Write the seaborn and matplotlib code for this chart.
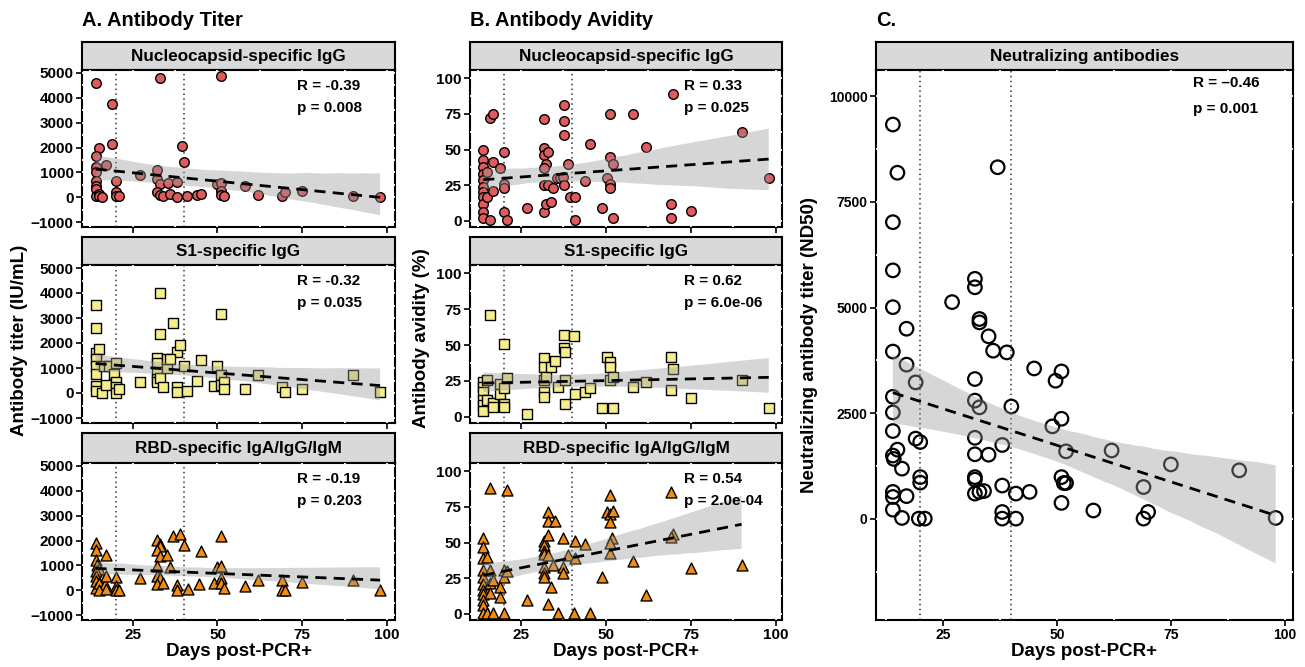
import numpy as np
import pandas as pd
import matplotlib
matplotlib.use("Agg")
import matplotlib.pyplot as plt
import seaborn as sns
from matplotlib.collections import PathCollection
from matplotlib.ticker import MultipleLocator

sns.set_theme(style="white")
plt.rcParams['font.family'] = ['Liberation Sans', 'DejaVu Sans']
plt.rcParams['font.weight'] = 'bold'
plt.rcParams['axes.labelweight'] = 'bold'
plt.rcParams['text.color'] = 'black'
plt.rcParams['axes.labelcolor'] = 'black'

# (days post-PCR+, value)
titer_n = [(14, 4600), (33, 4800), (51, 4870), (19, 3750), (19, 2130), (15, 2000), (39.5, 2050),
           (40, 1400), (14, 1650), (17, 1300), (14, 1200), (14, 1000), (32, 1100), (27, 900),
           (20, 650), (32, 740), (33, 540), (35.5, 580), (38, 600), (14, 670), (14, 470),
           (14, 340), (14, 30), (15, 130), (15, 60), (16, 0), (20, 200), (20, 40), (21, 40),
           (32, 200), (33, 70), (34, 40), (36, 130), (38, 0), (41, 40), (44, 70), (45, 130),
           (50, 540), (51, 580), (51, 240), (51, 70), (52, 40), (58, 470), (62, 70), (69, 40),
           (70, 200), (75, 240), (90, 30), (98, 0)]
titer_s1 = [(14, 3520), (14, 2610), (33, 3990), (33, 2380), (37, 2820), (38, 1640), (39, 1935),
            (40, 1100), (51, 3160), (14, 1610), (15, 1750), (14, 1370), (14, 1100), (14, 770),
            (16.5, 1100), (18, 1100), (19.3, 770), (20, 1210), (14, 300), (14, 70), (16, 0),
            (17, 320), (20, 430), (20, 230), (20, 0), (21, 160), (27, 430), (32, 1400),
            (32, 1210), (32, 830), (32, 560), (32, 430), (33, 600), (34, 230), (35, 1000),
            (35, 1370), (36, 1370), (38, 230), (38, 30), (41, 70), (44, 500), (45, 1340),
            (49, 300), (50, 1075), (51, 730), (51, 320), (52, 430), (52, 160), (58, 160),
            (62, 730), (69, 230), (70, 27), (75, 160), (90, 730), (98, 27)]
titer_rbd = [(14, 1900), (14, 1635), (17, 1435), (14, 1230), (14.5, 1030), (15, 860), (14, 760),
             (14, 560), (14, 360), (14, 95), (15, 300), (16.8, 230), (15, 27), (17, 560),
             (17, 54), (20, 535), (20, 160), (20, 0), (21, 0), (27, 500), (32, 2040), (33, 1840),
             (33, 1770), (32, 1635), (33, 1395), (35, 1435), (32, 990), (32, 560), (33, 500),
             (32, 230), (34, 300), (36, 940), (37, 2200), (39, 2280), (40, 1800), (38, 190),
             (38, 0), (41.4, 54), (44.4, 230), (45, 1570), (49, 300), (50, 940), (51, 990),
             (51, 2200), (51, 500), (51, 270), (52, 95), (58, 160), (62, 430), (69, 430),
             (69, 27), (70, 27), (75, 320), (90, 430), (98, 27)]

avid_n = [(16, 72), (17, 75), (14, 50), (14, 43), (14, 38), (14, 33), (14, 29), (14, 24), (14, 20),
          (14, 17), (14, 12), (14, 6), (14, 2), (15, 34), (15, 17), (16, 0.5), (17, 41), (17, 21),
          (19, 37), (20, 48), (20, 26), (20, 23), (20, 6), (21, 1), (27, 9), (32, 71), (32, 51),
          (32, 46), (32.6, 40), (32, 37), (32, 25), (32, 6), (33, 48), (33, 25), (32.6, 12),
          (34, 13), (34.6, 23), (35.6, 30), (36.6, 30), (37.6, 31), (37.8, 81), (37.8, 70),
          (37.8, 60), (37.8, 25), (39, 40), (39.6, 17), (41, 17), (41, 1), (44, 28), (45.5, 54),
          (49, 9), (50.4, 30), (51.3, 75), (51.3, 45), (51.3, 26), (51.3, 23), (52.3, 40),
          (52.3, 2), (58, 75), (62, 52), (69.8, 89), (69.3, 12), (69.3, 2), (75, 7), (90, 62),
          (98, 30)]
avid_s1 = [(16, 71), (20, 51), (14, 24), (14, 21), (14, 17), (14, 12), (14, 8), (14, 4), (15, 26),
           (15, 12), (17, 10), (17, 7), (19, 23), (19, 16), (20, 20), (20, 9), (20, 7), (21, 27),
           (27, 2), (32, 41), (32, 35), (32, 26), (32, 17), (32, 14), (32.6, 28), (34, 35),
           (35, 39), (36, 21), (37.8, 57), (37.8, 48), (38.1, 45), (38.1, 9), (38.1, 26),
           (40.6, 56), (41, 16), (44, 17), (45.5, 20), (49, 6), (50.4, 42), (51.3, 38),
           (51.3, 35), (51.3, 26), (52.3, 28), (52.3, 6), (58, 21), (62, 24), (69.3, 42),
           (69.3, 19), (69.8, 33), (75, 13), (90, 26), (98, 6)]
avid_rbd = [(16, 88), (21, 87), (14, 53), (14, 47), (14, 39), (14, 31), (14, 26), (14, 21),
            (14, 17), (14, 14), (14, 10), (14, 6), (14, 0.5), (15, 40), (15, 0.5), (17, 0.5),
            (16, 31), (16, 22), (16, 15), (17, 24), (19, 19), (19, 12), (20, 31), (20, 26),
            (20, 0.5), (21, 30), (27, 10), (32, 51), (32, 48), (32, 44), (32, 42), (32, 33),
            (32, 29), (32, 26), (33, 71), (33, 65), (33, 55), (33, 41), (33, 7), (34, 19),
            (34.6, 34), (35, 65), (36, 0.5), (37.6, 53), (37.6, 33), (37.6, 29), (39, 41),
            (40.6, 0.5), (41, 51), (41, 39), (44, 49), (45.5, 0.5), (49, 26), (51.3, 83),
            (50.4, 71), (51.3, 70), (52.3, 72), (51.3, 64), (51.8, 53), (51.3, 43), (51.3, 50),
            (58, 37), (62, 13), (69.3, 85), (69.8, 56), (69.3, 54), (75, 32), (90, 34)]

neut = [(14, 9330), (15, 8190), (14, 7020), (14, 5880), (14, 5010), (17, 4500), (37, 8320),
        (32, 5680), (32, 5480), (27, 5130), (33, 4730), (33, 4650), (35, 4320), (14, 3960),
        (17, 3650), (36, 3980), (39, 3940), (45, 3560), (51, 3490), (49.7, 3270), (19, 3230),
        (14, 2890), (32, 3310), (32, 2800), (33, 2640), (40, 2660), (14, 2520), (51, 2370),
        (49, 2190), (14, 2080), (19, 1900), (20, 1820), (32, 1920), (38, 1750), (15, 1640),
        (14, 1500), (14.2, 1420), (32, 1530), (35, 1520), (52, 1600), (62, 1620), (16, 1190),
        (75, 1290), (90, 1150), (20, 990), (20, 860), (32, 990), (32, 930), (51, 990),
        (51.5, 850), (52, 850), (38, 790), (69, 755), (14, 640), (14, 520), (17, 540),
        (32, 600), (33, 640), (34, 660), (41, 600), (44, 640), (51, 380), (14, 220), (16, 24),
        (19.7, 8), (21, 8), (38, 165), (38, 8), (41, 8), (58, 200), (69, 8), (70, 165), (98, 24)]

strip_labels = ["Nucleocapsid-specific IgG", "S1-specific IgG", "RBD-specific IgA/IgG/IgM"]
titer_stats = [("R = -0.39", "p = 0.008"), ("R = -0.32", "p = 0.035"), ("R = -0.19", "p = 0.203")]
avid_stats = [("R = 0.33", "p = 0.025"), ("R = 0.62", "p = 6.0e-06"), ("R = 0.54", "p = 2.0e-04")]
neut_stats = ("R = \u20130.46", "p = 0.001")

W, H = 1305, 667
fig = plt.figure(figsize=(W / 100, H / 100), dpi=100)


def box(l, t, r, b):
    return [l / W, 1 - b / H, (r - l) / W, (b - t) / H]


def strip(l, t, r, b, label):
    s = fig.add_axes(box(l, t, r, b))
    s.set_facecolor('#D9D9D9')
    s.set_xticks([])
    s.set_yticks([])
    for sp in s.spines.values():
        sp.set_color('black')
        sp.set_linewidth(1.5)
    s.text(0.5, 0.47, label, ha='center', va='center', fontsize=12.3, transform=s.transAxes)


def panel(ax, pairs, marker, face, size, stats, xlim, ylim, yticks, ymin, xlabels, tx, ty, dy,
          hollow=False):
    df = pd.DataFrame(pairs, columns=['day', 'value'])
    ax.set_axisbelow(True)
    ax.axvline(20, color='#333333', ls=(0, (1, 2.2)), lw=1.1, zorder=1.5)
    ax.axvline(40, color='#333333', ls=(0, (1, 2.2)), lw=1.1, zorder=1.5)
    sns.scatterplot(data=df, x='day', y='value', marker=marker, s=size, color=face,
                    edgecolor='black', linewidth=1.6 if hollow else 1.0, ax=ax, zorder=2, legend=False)
    if hollow:
        ax.collections[-1].set_facecolor('none')
    n_before = len(ax.collections)
    sns.regplot(data=df, x='day', y='value', scatter=False, ax=ax, color='#999999', seed=3,
                line_kws=dict(color='black', ls=(0, (4, 2.6)), lw=2.0))
    for c in ax.collections[n_before:]:
        if not isinstance(c, PathCollection):
            c.set_alpha(None)
            c.set_facecolor((0.6, 0.6, 0.6, 0.4))
            c.set_edgecolor('none')
            c.set_zorder(3)
    ax.lines[-1].set_zorder(4)
    ax.set_xlim(*xlim)
    ax.set_ylim(*ylim)
    ax.set_xticks([25, 50, 75, 100])
    ax.set_yticks(yticks)
    ax.xaxis.set_minor_locator(MultipleLocator(12.5))
    ax.yaxis.set_minor_locator(MultipleLocator(ymin))
    ax.grid(True, which='both', color='white', lw=1.3)
    ax.tick_params(which='major', direction='out', length=4, width=1.2, color='black',
                   labelsize=11, labelcolor='black', pad=2, left=True, bottom=True)
    ax.tick_params(which='minor', length=0)
    if not xlabels:
        ax.set_xticklabels([])
    ax.set_xlabel('')
    ax.set_ylabel('')
    ax.set_facecolor('white')
    for sp in ax.spines.values():
        sp.set_color('black')
        sp.set_linewidth(1.5)
        sp.set_zorder(0.3)
    ax.text(tx, ty, stats[0], transform=ax.transAxes, fontsize=11, ha='left', va='center', zorder=6)
    ax.text(tx, ty - dy, stats[1], transform=ax.transAxes, fontsize=11, ha='left', va='center',
            zorder=6)


strip_rows = [(42, 70), (237, 265), (433, 463)]
plot_rows = [(70, 227), (265, 423), (463, 620)]

titer_sets = [(titer_n, 'o', '#DE5B5E', 48), (titer_s1, 's', '#F6EE8C', 42), (titer_rbd, '^', '#F28C0F', 62)]
avid_sets = [(avid_n, 'o', '#DE5B5E', 48), (avid_s1, 's', '#F6EE8C', 42), (avid_rbd, '^', '#F28C0F', 62)]

for i in range(3):
    st, sb = strip_rows[i]
    pt, pb = plot_rows[i]
    # column A
    strip(82, st, 395, sb, strip_labels[i])
    ax = fig.add_axes(box(82, pt, 395, pb))
    pairs, m, col, sz = titer_sets[i]
    panel(ax, pairs, m, col, sz, titer_stats[i], (10, 102.4), (-1200, 5120),
          [-1000, 0, 1000, 2000, 3000, 4000, 5000], 500, i == 2, 0.687, 0.90, 0.14)
    # column B
    strip(470, st, 782, sb, strip_labels[i])
    ax = fig.add_axes(box(470, pt, 782, pb))
    pairs, m, col, sz = avid_sets[i]
    panel(ax, pairs, m, col, sz, avid_stats[i], (10.1, 101.9), (-4.2, 105.6),
          [0, 25, 50, 75, 100], 12.5, i == 2, 0.686, 0.90, 0.14)

# column C
strip(876, 42, 1293, 70, "Neutralizing antibodies")
axc = fig.add_axes(box(876, 70, 1293, 620))
panel(axc, neut, 'o', 'black', 95, neut_stats, (10.3, 101.8), (-2390, 10620),
      [0, 2500, 5000, 7500, 10000], 1250, True, 0.76, 0.976, 0.046, hollow=True)
axc.tick_params(labelsize=10)

fig.text(82 / W, 1 - 20 / H, "A. Antibody Titer", fontsize=14.5, ha='left', va='center')
fig.text(470 / W, 1 - 20 / H, "B. Antibody Avidity", fontsize=14.5, ha='left', va='center')
fig.text(876 / W, 1 - 20 / H, "C.", fontsize=14.5, ha='left', va='center')

fig.text(19.5 / W, 1 - 340 / H, "Antibody titer (IU/mL)", rotation=90, fontsize=13.5, ha='center', va='center')
fig.text(421 / W, 1 - 338 / H, "Antibody avidity (%)", rotation=90, fontsize=13.5, ha='center', va='center')
fig.text(810 / W, 1 - 345 / H, "Neutralizing antibody titer (ND50)", rotation=90, fontsize=13.5,
         ha='center', va='center')
for cx in [238.5, 626, 1084]:
    fig.text(cx / W, 1 - 652 / H, "Days post-PCR+", fontsize=13.5, ha='center', va='center')

fig.savefig("out.png", dpi=100)
